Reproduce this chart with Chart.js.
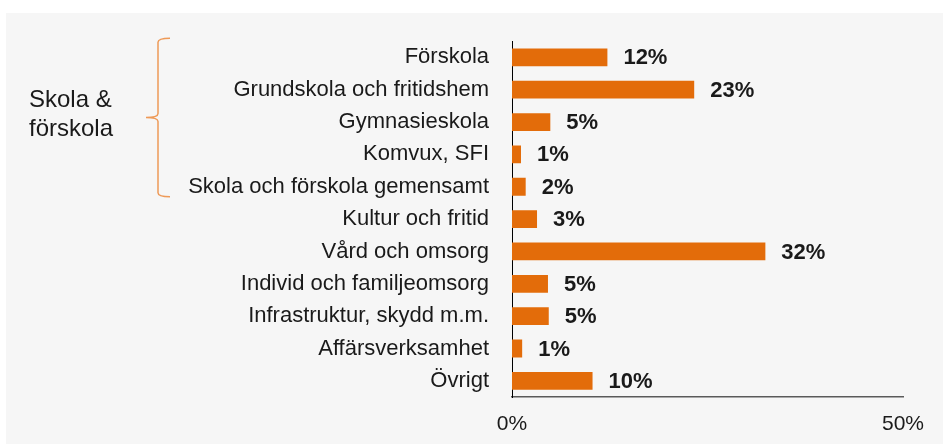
<!DOCTYPE html>
<html>
<head>
<meta charset="utf-8">
<script src="https://cdn.jsdelivr.net/npm/chart.js@4"></script>
<style>
  html, body { margin: 0; padding: 0; background: #ffffff; }
  #wrap { position: absolute; left: 6px; top: 13px; width: 937px; height: 431px; background: #f6f6f6; }
  #myChart { display: block; }
</style>
</head>
<body>
<div id="wrap"><canvas id="myChart" width="937" height="431"></canvas></div>
<script>
const kategorier = ["Förskola", "Grundskola och fritidshem", "Gymnasieskola", "Komvux, SFI",
  "Skola och förskola gemensamt", "Kultur och fritid", "Vård och omsorg",
  "Individ och familjeomsorg", "Infrastruktur, skydd m.m.", "Affärsverksamhet", "Övrigt"]
const andelar = [12.2, 23.3, 4.9, 1.15, 1.75, 3.2, 32.4, 4.6, 4.7, 1.3, 10.3] // procent
const xTicks = [0, 50]
const gruppText = ["Skola &", "förskola"]
const gruppRader = [0, 4] // första och sista raden i klammern

const myChart = document.getElementById("myChart")

// värden till höger om staplarna
const stapelEtiketter = {
  id: "stapelEtiketter",
  afterDatasetsDraw(chart) {
    const ctx = chart.ctx
    const meta = chart.getDatasetMeta(0)
    ctx.save()
    ctx.font = "bold 22px 'Liberation Sans', Arial, sans-serif"
    ctx.fillStyle = "#1a1a1a"
    ctx.textAlign = "left"
    ctx.textBaseline = "middle"
    meta.data.forEach((bar, i) => {
      ctx.fillText(Math.round(andelar[i]) + "%", bar.x + 16, bar.y + 1)
    })
    ctx.restore()
  },
}

// klammern till vänster
const klammer = {
  id: "klammer",
  afterDraw(chart) {
    const ctx = chart.ctx
    const y = chart.scales.y
    const top = y.getPixelForValue(gruppRader[0]) - 19
    const bottom = y.getPixelForValue(gruppRader[1]) + 10
    const mid = (top + bottom) / 2
    const x = 152
    ctx.save()
    ctx.strokeStyle = "#ee9a58"
    ctx.lineWidth = 1.5
    ctx.beginPath()
    ctx.moveTo(x + 12, top)
    ctx.quadraticCurveTo(x, top, x, top + 4)
    ctx.lineTo(x, mid - 4)
    ctx.quadraticCurveTo(x, mid, x - 12, mid)
    ctx.quadraticCurveTo(x, mid, x, mid + 4)
    ctx.lineTo(x, bottom - 4)
    ctx.quadraticCurveTo(x, bottom, x + 12, bottom)
    ctx.stroke()

    ctx.font = "24px 'Liberation Sans', Arial, sans-serif"
    ctx.fillStyle = "#1a1a1a"
    ctx.textAlign = "left"
    ctx.textBaseline = "alphabetic"
    ctx.fillText(gruppText[0], 23, mid - 11)
    ctx.fillText(gruppText[1], 23, mid + 18)
    ctx.restore()
  },
}

const pintarGrafica = () => {
  new Chart(myChart, {
    type: "bar",
    data: {
      labels: kategorier,
      datasets: [
        {
          data: andelar,
          backgroundColor: "#e36c0a",
          borderWidth: 0,
          categoryPercentage: 1,
          barPercentage: 0.55,
        },
      ],
    },
    options: {
      indexAxis: "y",
      responsive: false,
      animation: false,
      layout: { padding: { top: 24, right: 40, left: 0, bottom: 0 } },
      plugins: { legend: { display: false }, tooltip: { enabled: false } },
      scales: {
        x: {
          min: 0,
          max: 50,
          afterBuildTicks: (axis) => { axis.ticks = xTicks.map((v) => ({ value: v })) },
          afterFit: (axis) => { axis.height = 47 },
          grid: { display: false },
          border: { display: true, color: "#5a5a5a", width: 1.5 },
          ticks: {
            padding: 7,
            color: "#1a1a1a",
            font: { family: "'Liberation Sans', Arial, sans-serif", size: 21 },
            callback: (v) => v + "%",
          },
        },
        y: {
          afterFit: (axis) => { axis.width = 506 },
          grid: { display: false },
          border: { display: true, color: "#000000", width: 1 },
          ticks: {
            padding: 15,
            color: "#1a1a1a",
            font: { family: "'Liberation Sans', Arial, sans-serif", size: 22 },
          },
        },
      },
    },
    plugins: [stapelEtiketter, klammer],
  })
}

window.addEventListener("load", pintarGrafica)
</script>
</body>
</html>
